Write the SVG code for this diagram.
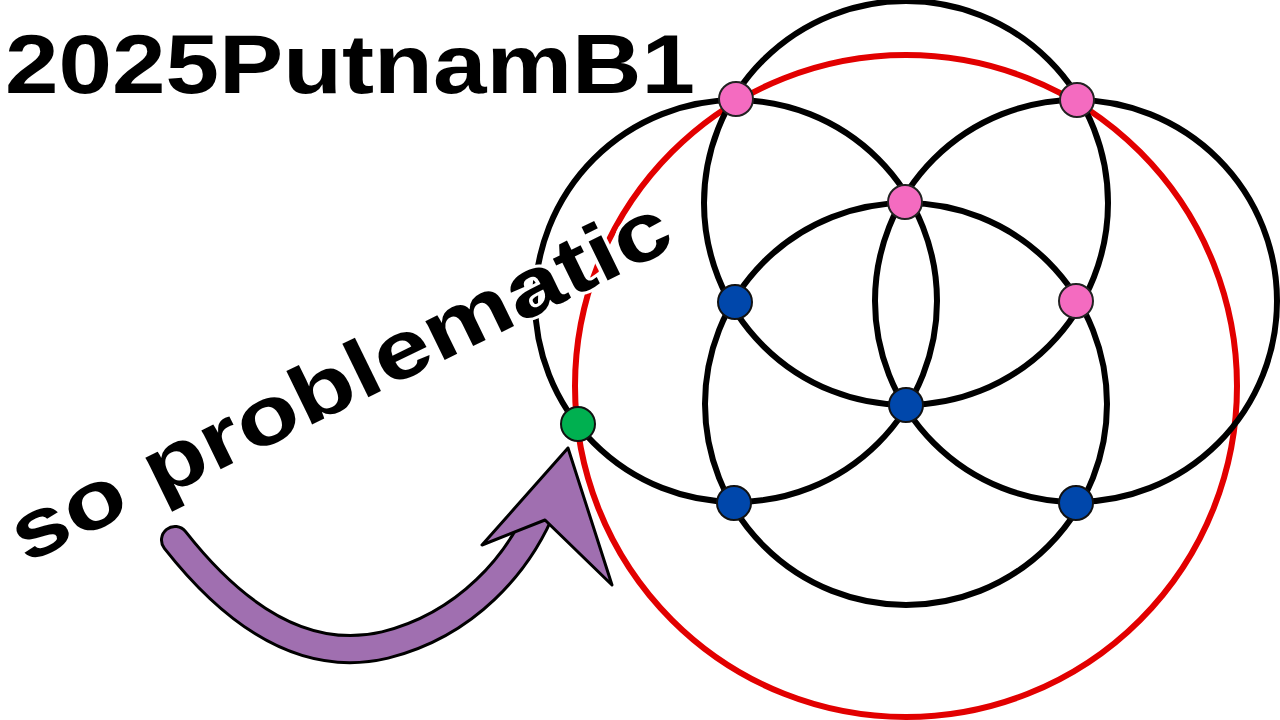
<svg xmlns="http://www.w3.org/2000/svg" width="1280" height="720" viewBox="0 0 1280 720">
<style>
.bc{fill:none;stroke:#000;stroke-width:6}
.pk{fill:#f46bc0;stroke:#222;stroke-width:2}
.bl{fill:#0047ab;stroke:#111;stroke-width:2}
</style>
<rect width="1280" height="720" fill="#fff"/>
<g id="circles">
<circle id="c-red" cx="906" cy="386" r="331" fill="none" stroke="#e20000" stroke-width="6"/>
<circle id="c-top" class="bc" cx="906" cy="203" r="202"/>
<circle id="c-bottom" class="bc" cx="906" cy="404" r="201"/>
<circle id="c-left" class="bc" cx="736" cy="301" r="201"/>
<circle id="c-right" class="bc" cx="1076" cy="301" r="201"/>
</g>
<g id="dots">
<circle class="pk" cx="736" cy="99" r="17"/>
<circle class="pk" cx="1077" cy="100" r="17"/>
<circle class="pk" cx="905" cy="202" r="17"/>
<circle class="pk" cx="1076" cy="301" r="17"/>
<circle class="bl" cx="735" cy="302" r="17"/>
<circle class="bl" cx="906" cy="405" r="17"/>
<circle class="bl" cx="734" cy="503" r="17"/>
<circle class="bl" cx="1076" cy="503" r="17"/>
<circle cx="578" cy="424" r="17" fill="#00b050" stroke="#111" stroke-width="2"/>
</g>
<g id="arrow">
<path d="M175,540 C230,610 300,665 385,645 C465,625 520,565 545,500" fill="none" stroke="#000" stroke-width="30" stroke-linecap="round"/>
<path d="M175,540 C230,610 300,665 385,645 C465,625 520,565 545,500" fill="none" stroke="#a06fb0" stroke-width="24" stroke-linecap="round"/>
<polygon points="568,448 482,545 545,520 612,585" fill="#a06fb0" stroke="#000" stroke-width="3" stroke-linejoin="round"/>
</g>
<text x="5" y="93" font-family="Liberation Sans, Arial, sans-serif" font-weight="bold" font-size="84" textLength="690" lengthAdjust="spacingAndGlyphs">2025PutnamB1</text>
<text transform="translate(26,564) rotate(-26)" font-family="Liberation Sans, Arial, sans-serif" font-weight="bold" font-size="82" textLength="725" lengthAdjust="spacingAndGlyphs" stroke="#fff" stroke-width="6" paint-order="stroke">so problematic</text>
</svg>
